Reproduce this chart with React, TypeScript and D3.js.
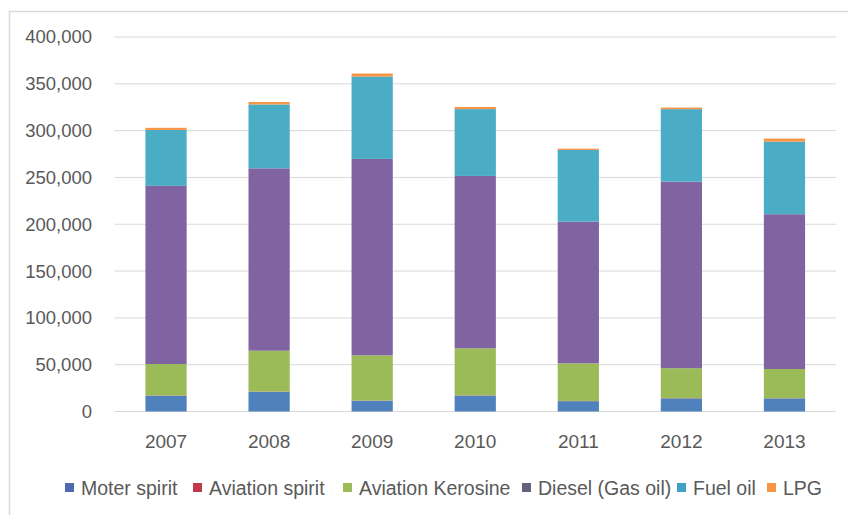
import React from "react";
import * as d3 from "d3";

const years = ["2007", "2008", "2009", "2010", "2011", "2012", "2013"];
const seriesNames = ["Moter spirit", "Aviation spirit", "Aviation Kerosine", "Diesel (Gas oil)", "Fuel oil", "LPG"];
const moterSpirit = [16800, 21000, 11500, 17000, 11000, 14000, 14000];
const aviationSpirit = [400, 350, 300, 300, 250, 250, 200];
const aviationKerosine = [33500, 43600, 48200, 50200, 40200, 32000, 31200];
const diesel = [190300, 194800, 209800, 184100, 151300, 199300, 165300];
const fuelOil = [59700, 68200, 87900, 71400, 76600, 77400, 77500];
const lpg = [2300, 2600, 3300, 2300, 1400, 1700, 3300];
const yTicks = [0, 50000, 100000, 150000, 200000, 250000, 300000, 350000, 400000];

const colors = ["#4F81BD", "#C0504D", "#9BBB59", "#8064A2", "#4BACC6", "#F79646"];
const legendColors = ["#4F6BAD", "#C0394D", "#9BBB59", "#65617F", "#3FA0C6", "#F79646"];
const legendX = [65, 193, 343, 522, 677, 767];

export default function App() {
  const W = 848, H = 515;
  const seriesData = [moterSpirit, aviationSpirit, aviationKerosine, diesel, fuelOil, lpg];
  const rows = years.map((y, i) => {
    const r: any = { year: y };
    seriesNames.forEach((s, k) => (r[s] = seriesData[k][i]));
    return r;
  });
  const stacked = d3.stack().keys(seriesNames)(rows);
  const x = d3.scaleBand().domain(years).range([114.5, 836]).paddingInner(0.6).paddingOuter(0.3);
  const y = d3.scaleLinear().domain([0, 400000]).range([411.5, 37]);
  const fmt = d3.format(",");
  const font = "'Liberation Sans', Arial, sans-serif";

  return (
    <svg width={W} height={H} style={{ position: "absolute", left: 0, top: 0, background: "#fff" }} fontFamily={font}>
      <rect x={9.5} y={11.5} width={W} height={H} fill="#fff" stroke="#D9D9D9" strokeWidth={1.5} />
      {yTicks.map((t) => (
        <g key={t}>
          <line x1={114.5} x2={836} y1={y(t)} y2={y(t)} stroke="#D9D9D9" strokeWidth={1} />
          <text x={92} y={y(t)} dy="0.35em" textAnchor="end" fontSize={18.5} fill="#595959">
            {fmt(t)}
          </text>
        </g>
      ))}
      {stacked.map((layer, k) => (
        <g key={layer.key} fill={colors[k]}>
          {layer.map((d: any, i: number) => (
            <rect
              key={i}
              x={x(years[i])}
              width={x.bandwidth()}
              y={y(d[1])}
              height={Math.max(0, y(d[0]) - y(d[1]))}
            />
          ))}
        </g>
      ))}
      {years.map((yr) => (
        <text key={yr} x={(x(yr) as number) + x.bandwidth() / 2} y={441} dy="0.35em" textAnchor="middle" fontSize={19} fill="#595959">
          {yr}
        </text>
      ))}
      {seriesNames.map((s, k) => (
        <g key={s}>
          <rect x={legendX[k]} y={483} width={9} height={9} fill={legendColors[k]} />
          <text x={legendX[k] + 16} y={488} dy="0.35em" fontSize={19.5} fill="#595959">
            {s}
          </text>
        </g>
      ))}
    </svg>
  );
}
